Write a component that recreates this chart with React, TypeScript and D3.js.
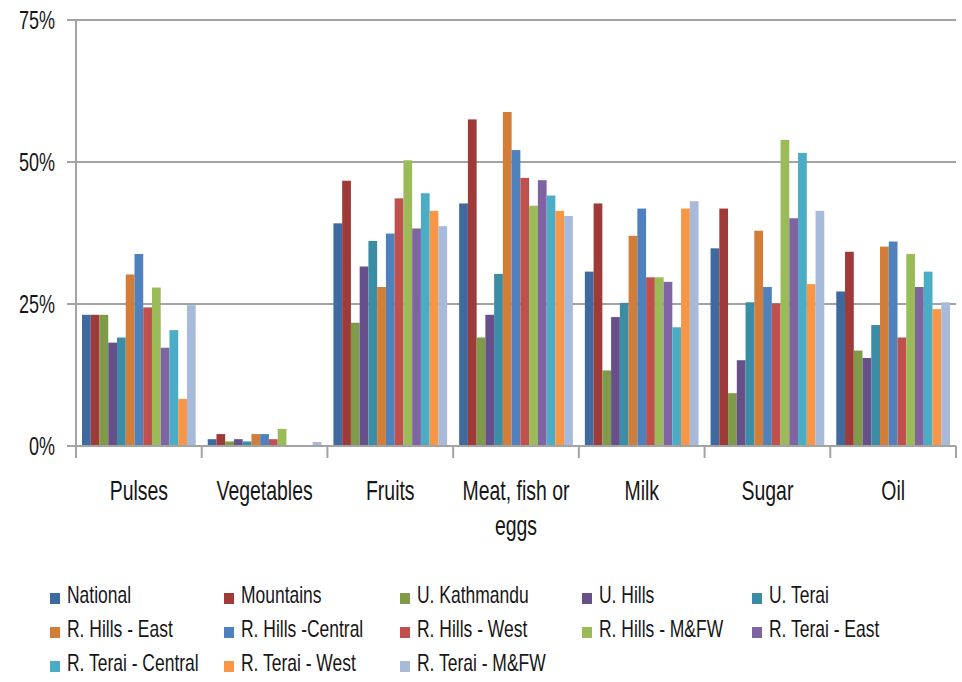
import React from "react";
import * as d3 from "d3";

const categories = ["Pulses", "Vegetables", "Fruits", "Meat, fish or eggs", "Milk", "Sugar", "Oil"];
const categoryLines = [["Pulses"], ["Vegetables"], ["Fruits"], ["Meat, fish or", "eggs"], ["Milk"], ["Sugar"], ["Oil"]];
const yTicks = [0, 0.25, 0.5, 0.75];

const seriesNames = [
  "National", "Mountains", "U. Kathmandu", "U. Hills", "U. Terai",
  "R. Hills - East", "R. Hills -Central", "R. Hills - West", "R. Hills - M&FW", "R. Terai - East",
  "R. Terai - Central", "R. Terai - West", "R. Terai - M&FW",
];
const seriesColors = [
  "#3E6A9F", "#9E3B39", "#7F9A48", "#674F8A", "#3B8DA5",
  "#D27E38", "#4F81BD", "#C0504D", "#9BBB59", "#8064A2",
  "#4BACC6", "#F79646", "#A8BAD9",
];

const national = [23.1, 1.2, 39.2, 42.7, 30.7, 34.8, 27.2];
const mountains = [23.1, 2.1, 46.7, 57.5, 42.7, 41.8, 34.2];
const uKathmandu = [23.1, 0.8, 21.7, 19.1, 13.3, 9.3, 16.8];
const uHills = [18.2, 1.2, 31.6, 23.1, 22.7, 15.1, 15.5];
const uTerai = [19.1, 0.8, 36.1, 30.3, 25.2, 25.3, 21.3];
const rHillsEast = [30.2, 2.1, 28.0, 58.8, 37.0, 37.9, 35.1];
const rHillsCentral = [33.8, 2.1, 37.4, 52.1, 41.8, 28.0, 36.0];
const rHillsWest = [24.4, 1.2, 43.6, 47.2, 29.7, 25.1, 19.1];
const rHillsMFW = [27.9, 3.0, 50.3, 42.3, 29.7, 53.9, 33.8];
const rTeraiEast = [17.3, 0, 38.3, 46.8, 28.9, 40.1, 28.0];
const rTeraiCentral = [20.4, 0, 44.5, 44.1, 20.9, 51.6, 30.7];
const rTeraiWest = [8.3, 0, 41.4, 41.4, 41.8, 28.5, 24.1];
const rTeraiMFW = [24.8, 0.7, 38.7, 40.5, 43.1, 41.4, 25.3];

const seriesValues = [
  national, mountains, uKathmandu, uHills, uTerai,
  rHillsEast, rHillsCentral, rHillsWest, rHillsMFW, rTeraiEast,
  rTeraiCentral, rTeraiWest, rTeraiMFW,
];

const FONT = "Liberation Sans, Arial, sans-serif";
const SX = 0.72;
const SX_LEGEND = 0.76;
const TEXT = "#161616";
const GRID = "#A3A3A3";

export default function App() {
  const left = 76, right = 956, top = 20, bottom = 446;
  const x0 = d3.scaleBand<string>().domain(categories).range([left, right]).padding(0);
  const gap = 12;
  const x1 = d3.scaleBand<string>().domain(seriesNames).range([gap / 2, x0.bandwidth() - gap / 2]).padding(0);
  const y = d3.scaleLinear().domain([0, 0.75]).range([bottom, top]);
  const fmt = d3.format(".0%");

  const legendCols = [50, 224, 400, 582, 752];
  const legendRow0 = 603;
  const legendRowH = 34;

  const catEdges = categories.map((c) => x0(c) as number).concat([right]);

  return (
    <svg width={962} height={682} style={{ position: "absolute", left: 0, top: 0, background: "#fff" }}>
      {yTicks.filter((t) => t > 0).map((t) => (
        <line key={"g" + t} x1={left} x2={right} y1={y(t)} y2={y(t)} stroke={GRID} strokeWidth={2} />
      ))}
      {yTicks.map((t) => (
        <g key={"yt" + t}>
          <line x1={left - 9} x2={left} y1={y(t)} y2={y(t)} stroke={GRID} strokeWidth={2} />
          <text
            transform={`translate(${55},${y(t) + 9}) scale(${SX},1)`}
            textAnchor="end"
            fontFamily={FONT}
            fontSize={25}
            fill={TEXT}
          >
            {fmt(t)}
          </text>
        </g>
      ))}
      {categories.map((c, ci) => (
        <g key={c} transform={`translate(${x0(c)},0)`}>
          {seriesNames.map((s, si) => {
            const v = seriesValues[si][ci] / 100;
            return (
              <rect
                key={s}
                x={x1(s)}
                y={y(v)}
                width={x1.bandwidth()}
                height={bottom - y(v)}
                fill={seriesColors[si]}
              />
            );
          })}
        </g>
      ))}
      <line x1={left} x2={left} y1={top} y2={bottom + 12} stroke={GRID} strokeWidth={2} />
      <line x1={left} x2={right} y1={bottom} y2={bottom} stroke={GRID} strokeWidth={2} />
      {catEdges.map((e, i) => (
        <line key={"ct" + i} x1={e} x2={e} y1={bottom} y2={bottom + 12} stroke={GRID} strokeWidth={2} />
      ))}
      {categories.map((c, ci) => (
        <g key={"cl" + c}>
          {categoryLines[ci].map((line, li) => (
            <text
              key={li}
              transform={`translate(${(x0(c) as number) + x0.bandwidth() / 2},${500 + li * 35}) scale(${SX},1)`}
              textAnchor="middle"
              fontFamily={FONT}
              fontSize={27}
              fill={TEXT}
            >
              {line}
            </text>
          ))}
        </g>
      ))}
      {seriesNames.map((s, si) => {
        const col = si % 5;
        const row = Math.floor(si / 5);
        const lx = legendCols[col];
        const ly = legendRow0 + row * legendRowH;
        return (
          <g key={"lg" + s}>
            <rect x={lx} y={ly - 10} width={10} height={11} fill={seriesColors[si]} />
            <text
              transform={`translate(${lx + 17},${ly}) scale(${SX_LEGEND},1)`}
              fontFamily={FONT}
              fontSize={23}
              fill={TEXT}
            >
              {s}
            </text>
          </g>
        );
      })}
    </svg>
  );
}
